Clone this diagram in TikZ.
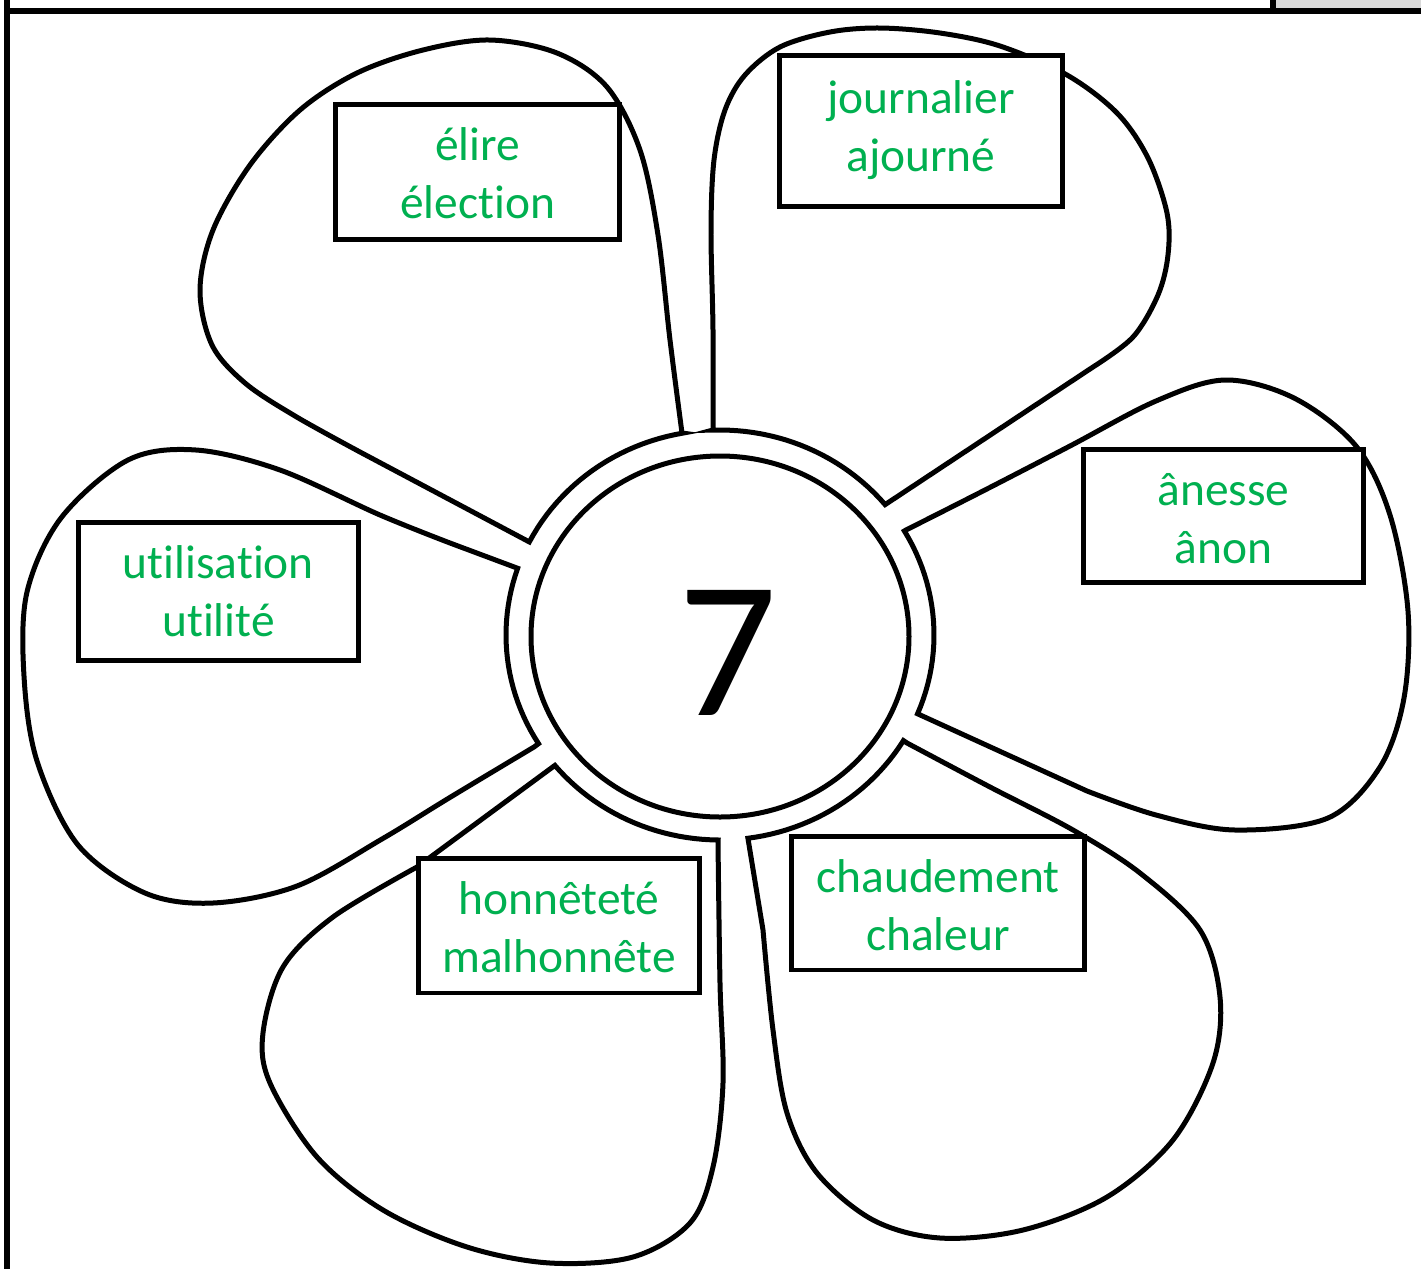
\documentclass[tikz,border=0pt]{standalone}
\usepackage{fontspec}
\setmainfont{Carlito}[Ligatures=NoCommon]
\definecolor{vert}{RGB}{0,176,80}
\definecolor{gris}{RGB}{217,217,217}

\begin{document}
\begin{tikzpicture}[x=0.02cm, y=-0.02cm,
    petale/.style={line width=0.1cm},
    cadre/.style={line width=0.12cm},
    boite/.style={draw, fill=white, line width=0.09cm, inner sep=0},
    mots/.style={text=vert, font=\fontsize{27}{33}\selectfont, align=center, inner sep=0, anchor=base}]
    \useasboundingbox (0,0) rectangle (1421,1269);

    % cadre
    \fill[gris] (1276,0) rectangle (1421,8);
    \draw[cadre] (7,0) -- (7,1269);
    \draw[cadre] (4,11) -- (1421,11);
    \draw[cadre] (1273,0) -- (1273,11);

    % petales
    \draw[petale] plot[domain=153:100] ({720+214*cos(\x)},{635-205*sin(\x)})
        -- plot[smooth, tension=0.55] coordinates {(682,433) (670,340) (658,235) (640,150) (607,87) (557,53)
            (490,40) (423,50) (357,73) (300,110) (250,165) (213,230) (200,290) (212,345) (245,383) (295,416) (360,452)} -- cycle;
    \draw[petale] plot[domain=39.5:92] ({720+214*cos(\x)},{635-205*sin(\x)})
        -- plot[smooth, tension=0.55] coordinates {(713,430) (713,330) (711,230) (714,160) (725,110) (745,75) (780,47)
            (830,32) (880,28) (940,33) (1000,46) (1067,75) (1117,113) (1148,158) (1167,213) (1168,255) (1158,295) (1133,337) (1093,367)} -- cycle;
    \draw[petale] plot[domain=-22.6:30.5] ({720+214*cos(\x)},{635-205*sin(\x)})
        -- plot[smooth, tension=0.55] coordinates {(906,530) (983,491) (1070,446) (1156,401) (1225,380) (1294,398) (1356,446)
            (1390,515) (1408,611) (1404,698) (1380,767) (1328,818) (1235,830) (1156,815) (1087,791)} -- cycle;
    \draw[petale] plot[domain=-82.5:-31] ({720+214*cos(\x)},{635-205*sin(\x)})
        -- plot[smooth, tension=0.55] coordinates {(907,743) (990,787) (1073,830) (1140,873) (1200,930) (1220,997) (1213,1063)
            (1173,1140) (1107,1197) (1023,1230) (940,1238) (873,1220) (817,1173) (787,1113) (773,1030) (763,930)} -- cycle;
    \draw[petale] plot[domain=-140.5:-90.5] ({720+214*cos(\x)},{635-205*sin(\x)})
        -- plot[smooth, tension=0.55] coordinates {(718,842) (720,983) (723,1083) (713,1167) (690,1223) (633,1257) (550,1263)
            (467,1247) (383,1210) (317,1157) (270,1083) (263,1033) (283,967) (333,917) (417,867)} -- cycle;
    \draw[petale] plot[domain=161:212] ({720+214*cos(\x)},{635-205*sin(\x)})
        -- plot[smooth, tension=0.55] coordinates {(534,747) (449,798) (382,839) (297,886) (213,903) (145,893) (78,845)
            (37,761) (24,676) (27,592) (61,518) (128,460) (196,450) (280,470) (380,515) (450,543)} -- cycle;

    % coeur
    \draw[petale] (720,636.5) ellipse [x radius=189, y radius=180.5];
    \node[anchor=base, inner sep=0, font=\fontsize{111}{111}\selectfont] (chiffre) at (728,715) {7};

    % boites
    \node[boite, minimum width=5.69cm, minimum height=2.71cm] (bElire) at (477.5,172) {};
    \node[boite, minimum width=5.67cm, minimum height=3.03cm] (bJour) at (921,131) {};
    \node[boite, minimum width=5.61cm, minimum height=2.67cm] (bAne) at (1223.5,516) {};
    \node[boite, minimum width=5.87cm, minimum height=2.67cm] (bChaud) at (938,903) {};
    \node[boite, minimum width=5.63cm, minimum height=2.69cm] (bHonn) at (559,925.5) {};
    \node[boite, minimum width=5.61cm, minimum height=2.77cm] (bUtil) at (218.5,591.5) {};

    % mots (base = derniere ligne)
    \node[mots] (tElire) at (477.5,218.5) {élire\\élection};
    \node[mots] (tJour) at (921,171.5) {journalier\\ajourné};
    \node[mots] (tAne) at (1223.5,563.5) {ânesse\\ânon};
    \node[mots] (tChaud) at (938,950.5) {chaudement\\chaleur};
    \node[mots] (tHonn) at (559,972.5) {honnêteté\\malhonnête};
    \node[mots] (tUtil) at (218.5,636.5) {utilisation\\utilité};
\end{tikzpicture}
\end{document}
